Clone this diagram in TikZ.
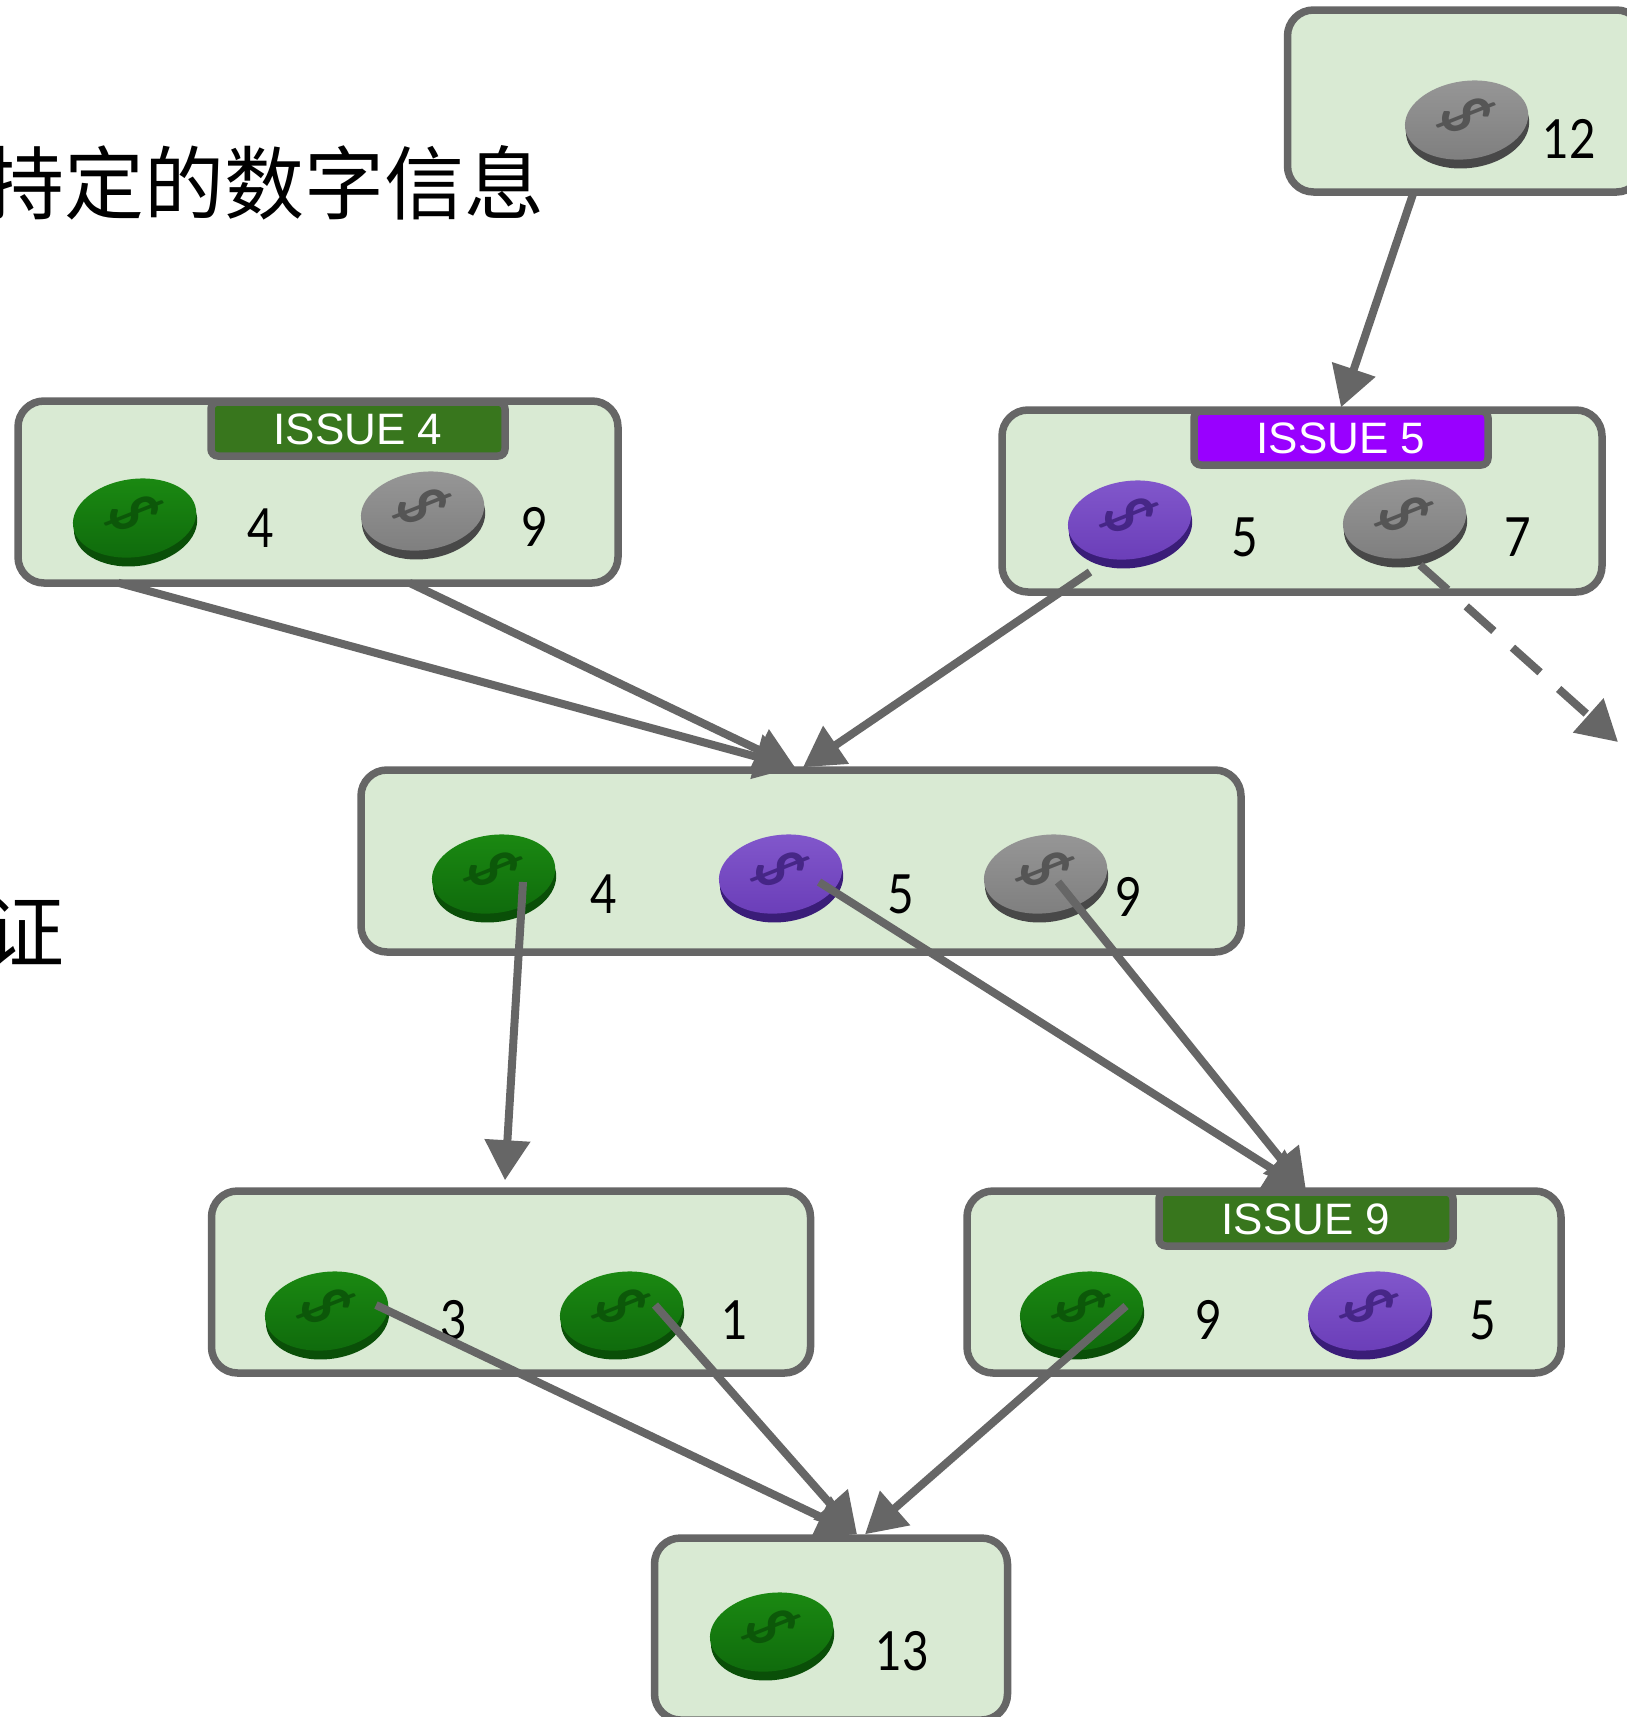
\documentclass[tikz,border=0pt]{standalone}
\usepackage{fontspec}
\setmainfont{Lato}
\newfontfamily\cjk{Noto Sans CJK SC}
\newfontfamily\tagfont{Liberation Sans}
\usetikzlibrary{calc}
\usetikzlibrary{arrows.meta}

\definecolor{linegray}{HTML}{666666}
\definecolor{boxgreen}{HTML}{D9EAD3}
\definecolor{taggreen}{HTML}{38761D}
\definecolor{tagpurple}{HTML}{9900FF}

\definecolor{greentop}{HTML}{1B8A12}
\definecolor{greenlow}{HTML}{0F6A0C}
\definecolor{greenrim}{HTML}{0A4F08}
\definecolor{purpletop}{HTML}{8258CC}
\definecolor{purplelow}{HTML}{6A3DB8}
\definecolor{purplerim}{HTML}{3A1D78}
\definecolor{graytop}{HTML}{979797}
\definecolor{graylow}{HTML}{7E7E7E}
\definecolor{grayrim}{HTML}{484848}

\begin{document}
\begin{tikzpicture}[
		x=1pt,y=-1pt,
		>={Triangle[length=40pt,width=44pt]},
		box/.style={
			draw=linegray,
			line width=7.5pt,
			fill=boxgreen,
			rounded corners=26pt,
			minimum height=182pt,
		},
		tagbox/.style={
			draw=linegray,
			line width=7.5pt,
			rounded corners=7pt,
			text=white,
			font=\tagfont\fontsize{44}{44}\selectfont,
			minimum width=294pt,
			minimum height=54pt,
			inner sep=0pt,
		},
		num/.style={font=\fontsize{54}{54}\selectfont,inner sep=0pt,xscale=.85},
		bigtxt/.style={font=\cjk\fontsize{80}{80}\selectfont,inner sep=0pt,anchor=east},
		link/.style={draw=linegray,line width=8pt},
	]
	\useasboundingbox (0,0) rectangle (1626,1717);
	\fill[white] (0,0) rectangle (1626,1717);

	\node[bigtxt] (txta) at (545,183) {持定的数字信息};
	\node[bigtxt] (txtb) at (65,931) {证};

	% boxes
	\node[box,minimum width=355pt] (boxtop) at (1465,101) {};
	\node[box,minimum width=600pt] (boxa) at (318,492) {};
	\node[box,minimum width=600pt] (boxb) at (1302,501) {};
	\node[box,minimum width=880pt] (boxmid) at (801,861) {};
	\node[box,minimum width=599pt] (boxl) at (511,1282) {};
	\node[box,minimum width=594pt] (boxr) at (1264,1282) {};
	\node[box,minimum width=353pt] (boxbot) at (831,1629) {};

	\node[tagbox,fill=taggreen] (taga) at (358,429) {ISSUE 4};
	\node[tagbox,fill=tagpurple] (tagb) at (1341,438) {ISSUE 5};
	\node[tagbox,fill=taggreen] (tagr) at (1306,1219) {ISSUE 9};

	% coins
	\foreach \name/\x/\y/\col in {
		cointop/1467/123/gray,
		coina1/135/521/green,coina2/423/514/gray,
		coinb1/1130/523/purple,coinb2/1405/522/gray,
		coinm1/494/877/green,coinm2/781/877/purple,coinm3/1046/877/gray,
		coinl1/327/1314/green,coinl2/622/1314/green,
		coinr1/1082/1314/green,coinr2/1370/1314/purple,
		coinbot/772/1635/green}{
		\coordinate (\name) at (\x,\y);
		\begin{scope}[shift={(\name)},rotate=8]
			\fill[\col rim] (0,4) ellipse [x radius=62pt,y radius=41pt];
			\shade[top color=\col top,bottom color=\col low] (0,-3) ellipse [x radius=62pt,y radius=39pt];
			\node[rotate=-65,text=\col rim,opacity=.8,font=\bfseries\fontsize{48}{48}\selectfont,yscale=1.4,inner sep=0pt] at (0,-8) {\$};
		\end{scope}
	}

	% numbers
	\foreach \name/\x/\y/\txt in {
		numtop/1569/139/12,
		numa1/261/528/4,numa2/535/527/9,
		numb1/1245/537/5,numb2/1518/537/7,
		numm1/604/894/4,numm2/901/894/5,numm3/1129/897/9,
		numl1/454/1320/3,numl2/735/1320/1,
		numr1/1209/1320/9,numr2/1483/1320/5,
		numbot/902/1651/13}{
		\node[num] (\name) at (\x,\y) {\txt};
	}

	% links
	\coordinate (dashend) at (1618,742);
	\draw[link,->] ([xshift=130pt,yshift=4pt]boxtop.south west) -- (tagb.north);
	\draw[link,->] ([xshift=104pt,yshift=4pt]boxa.south west) -- ([xshift=-6pt,yshift=-1pt]boxmid.north);
	\draw[link,->] ([xshift=395pt,yshift=4pt]boxa.south west) -- ([xshift=-6pt,yshift=-1pt]boxmid.north);
	\draw[link,->] ($(coinb1)+(-40,49)$) -- ([xshift=2pt,yshift=-1pt]boxmid.north);
	\draw[link,->] ($(coinm1)+(29,5)$) -- ([xshift=-6pt,yshift=7pt]boxl.north);
	\draw[link,->] ($(coinm2)+(38,5)$) -- ([yshift=-2pt]tagr.north);
	\draw[link,->] ($(coinm3)+(12,5)$) -- ([yshift=-2pt]tagr.north);
	\draw[link,->] ($(coinl1)+(49,-9)$) -- ([xshift=26pt]boxbot.north);
	\draw[link,->] ($(coinl2)+(33,-9)$) -- ([xshift=26pt]boxbot.north);
	\draw[link,->] ($(coinr1)+(44,-8)$) -- ([xshift=34pt]boxbot.north);
	\draw[link,dash pattern=on 37pt off 25pt,->] ($(coinb2)+(15,43)$) -- (dashend);
\end{tikzpicture}
\end{document}
